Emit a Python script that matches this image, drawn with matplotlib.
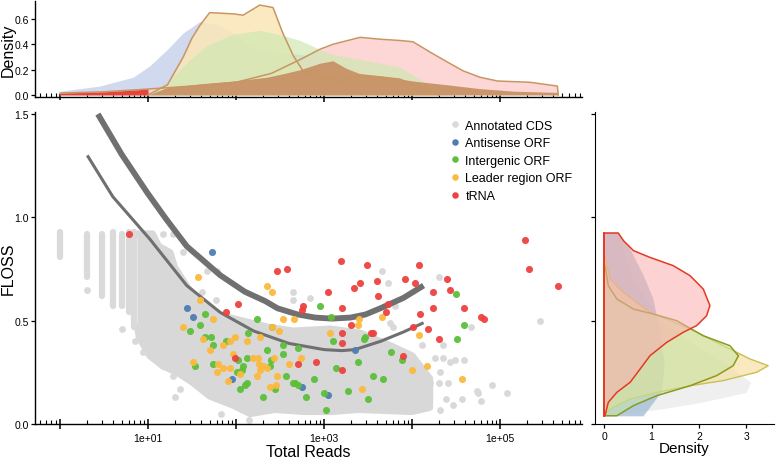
import numpy as np
import matplotlib
matplotlib.use("Agg")
import matplotlib.pyplot as plt
from matplotlib.ticker import FixedLocator, NullFormatter

plt.rcParams['font.family'] = ['Liberation Sans', 'DejaVu Sans']

# ---------------- data (x values are log10 of total reads) ----------------
groups = ["Annotated CDS", "Antisense ORF", "Intergenic ORF", "Leader region ORF", "tRNA"]
colors = ["#d9d9d9", "#4f7db3", "#5cbf3a", "#fbb93e", "#ec4240"]

# annotated CDS: dense cloud outline
cds_cloud_log = [0.88, 1.05, 1.12, 1.25, 1.30, 1.45, 1.56, 1.78, 1.97, 2.35, 2.65, 3.07, 3.41, 3.75,
                 4.00, 4.20, 4.20, 4.00, 3.39, 3.09, 2.78, 2.44, 2.16, 1.97, 1.70, 1.51, 1.33,
                 1.17, 1.02, 0.90, 0.88]
cds_cloud_floss = [0.92, 0.92, 0.86, 0.83, 0.76, 0.66, 0.60, 0.53, 0.51, 0.47, 0.45, 0.46, 0.44, 0.38,
                   0.33, 0.22, 0.08, 0.06, 0.07, 0.06, 0.06, 0.07, 0.05, 0.09, 0.135, 0.20, 0.25,
                   0.28, 0.33, 0.42, 0.47]
# annotated CDS: columns of points at low read counts
cds_col_reads = [1, 2, 3, 4, 5, 6, 7]
cds_col_low = [0.81, 0.71, 0.62, 0.57, 0.57, 0.54, 0.47]
cds_col_high = [0.93, 0.92, 0.92, 0.93, 0.92, 0.93, 0.93]
# annotated CDS: scattered points
cds_log = [1.17, 1.28, 1.40, 0.31, 0.70, 0.85, 0.94, 1.17, 1.28, 1.36, 1.67, 1.78, 2.65, 2.65, 1.61,
           1.77, 2.84, 3.66, 3.73, 4.31, 5.45, 4.67, 3.80, 3.75, 3.78, 4.11, 4.35, 4.26, 4.35, 4.43,
           4.49, 4.59, 4.32, 4.20, 4.30, 4.41, 4.57, 4.74, 4.91, 5.08, 4.78, 4.38, 4.47, 4.32, 1.31,
           1.83, 2.15, 4.75]
cds_floss = [0.92, 0.92, 0.83, 0.65, 0.46, 0.40, 0.35, 0.28, 0.23, 0.17, 0.74, 0.74, 0.64, 0.60, 0.64,
             0.60, 0.61, 0.74, 0.68, 0.71, 0.50, 0.47, 0.57, 0.49, 0.47, 0.38, 0.38, 0.32, 0.32, 0.30,
             0.31, 0.31, 0.25, 0.20, 0.20, 0.20, 0.12, 0.16, 0.19, 0.15, 0.11, 0.12, 0.09, 0.07, 0.13,
             0.05, 0.02, 0.15]

antisense_log = [1.73, 1.44, 1.51, 1.95, 2.75, 3.05, 3.35]
antisense_floss = [0.83, 0.56, 0.52, 0.22, 0.18, 0.14, 0.36]

intergenic_log = [1.59, 1.65, 2.24, 1.48, 1.65, 1.72, 1.88, 1.74, 2.14, 2.35, 2.53, 2.53, 2.70, 2.12,
                  2.02, 1.53, 1.74, 2.08, 2.07, 2.39, 2.01, 2.12, 2.10, 2.05, 2.31, 2.44, 2.57, 2.65,
                  2.95, 3.08, 2.41, 3.47, 4.50, 4.59, 4.51, 3.76, 3.88, 3.67, 3.10, 3.45, 2.40, 3.39,
                  3.14, 3.56, 2.67, 2.70, 2.89, 3.27, 3.00, 2.80, 3.50, 3.02]
intergenic_floss = [0.48, 0.53, 0.51, 0.45, 0.42, 0.42, 0.40, 0.38, 0.44, 0.36, 0.38, 0.34, 0.37, 0.32,
                    0.31, 0.28, 0.29, 0.28, 0.26, 0.28, 0.25, 0.20, 0.19, 0.17, 0.13, 0.17, 0.23, 0.20,
                    0.57, 0.52, 0.47, 0.42, 0.63, 0.48, 0.41, 0.35, 0.31, 0.22, 0.40, 0.41, 0.31, 0.30,
                    0.27, 0.23, 0.20, 0.19, 0.22, 0.16, 0.15, 0.13, 0.12, 0.07]

leader_log = [1.57, 2.35, 2.41, 1.59, 1.74, 1.40, 1.63, 1.93, 1.99, 1.85, 1.70, 2.12, 2.27, 2.53, 2.66,
              2.41, 2.49, 1.97, 2.19, 2.25, 1.51, 1.80, 1.78, 1.85, 1.93, 2.26, 2.31, 2.35, 2.24, 2.27,
              2.47, 2.45, 2.39, 1.91, 2.05, 3.40, 3.39, 3.66, 3.07, 4.08, 4.00, 4.17, 4.57, 2.43, 2.60,
              2.74, 3.43]
leader_floss = [0.71, 0.67, 0.64, 0.60, 0.51, 0.47, 0.41, 0.40, 0.42, 0.38, 0.36, 0.40, 0.42, 0.51, 0.51,
                0.47, 0.45, 0.34, 0.32, 0.32, 0.30, 0.29, 0.25, 0.27, 0.27, 0.29, 0.28, 0.27, 0.23, 0.26,
                0.23, 0.19, 0.18, 0.21, 0.24, 0.51, 0.48, 0.52, 0.44, 0.43, 0.26, 0.28, 0.22, 0.32, 0.29,
                0.32, 0.17]

trna_log = [0.78, 2.47, 2.58, 2.02, 1.89, 1.99, 2.70, 3.19, 3.49, 3.05, 3.34, 3.41, 3.60, 3.61, 2.76,
            2.75, 3.20, 3.30, 3.53, 3.56, 3.20, 3.20, 2.91, 3.20, 5.28, 5.33, 5.66, 4.08, 3.92, 4.03,
            4.40, 4.43, 4.24, 4.24, 4.59, 4.09, 4.78, 4.82, 4.18, 4.01, 3.73, 3.70, 4.31, 3.90]
trna_floss = [0.92, 0.74, 0.75, 0.58, 0.54, 0.32, 0.29, 0.79, 0.77, 0.64, 0.66, 0.68, 0.69, 0.62, 0.57,
              0.55, 0.56, 0.48, 0.44, 0.44, 0.44, 0.39, 0.30, 0.26, 0.89, 0.75, 0.67, 0.77, 0.70, 0.68,
              0.70, 0.65, 0.64, 0.56, 0.56, 0.53, 0.52, 0.51, 0.46, 0.47, 0.58, 0.54, 0.41, 0.33]

# threshold curves
thick_log = [0.43, 0.70, 0.99, 1.20, 1.44, 1.82, 2.10, 2.33, 2.47, 2.70, 2.90, 3.09, 3.30, 3.47, 3.64, 3.90, 4.13]
thick_floss = [1.5, 1.305, 1.12, 0.995, 0.86, 0.72, 0.64, 0.595, 0.56, 0.53, 0.515, 0.51, 0.515, 0.53, 0.56, 0.61, 0.67]
thin_log = [0.31, 0.60, 1.02, 1.44, 1.82, 2.20, 2.60, 3.00, 3.20, 3.35, 3.64, 3.90, 4.13]
thin_floss = [1.30, 1.10, 0.895, 0.67, 0.54, 0.45, 0.39, 0.36, 0.355, 0.36, 0.40, 0.445, 0.49]

# top marginal densities (x: log10 reads)
top_blue_log = [0.0, 0.45, 0.83, 1.02, 1.22, 1.40, 1.59, 1.78, 1.97, 2.16, 2.35, 2.73, 2.92, 3.25, 3.5, 3.75, 4.0, 4.5]
top_blue_dens = [0.03, 0.07, 0.14, 0.23, 0.36, 0.49, 0.58, 0.56, 0.49, 0.39, 0.34, 0.32, 0.30, 0.24, 0.17, 0.10, 0.05, 0.01]
top_trna_log = [0.0, 0.5, 0.9, 1.0, 1.5, 2.0, 2.4, 2.73, 2.95, 3.1, 3.41, 3.64, 3.86, 4.01, 4.2, 4.4, 4.58, 4.77, 4.97, 5.34, 5.65, 5.66]
top_trna_dens = [0.015, 0.025, 0.042, 0.047, 0.07, 0.10, 0.17, 0.28, 0.36, 0.40, 0.455, 0.44, 0.43, 0.42, 0.34, 0.26, 0.19, 0.14, 0.11, 0.10, 0.07, 0.0]
top_leader_log = [1.0, 1.22, 1.40, 1.50, 1.59, 1.70, 1.97, 2.08, 2.27, 2.42, 2.53, 2.65, 2.76, 2.95, 3.18, 3.41, 3.6, 3.86, 4.1, 4.3]
top_leader_dens = [0.0, 0.08, 0.30, 0.45, 0.55, 0.65, 0.64, 0.63, 0.71, 0.69, 0.49, 0.31, 0.19, 0.14, 0.11, 0.15, 0.145, 0.125, 0.06, 0.0]
top_inter_log = [1.0, 1.22, 1.45, 1.67, 1.97, 2.27, 2.53, 2.73, 2.95, 3.1, 3.5, 3.86, 4.1, 4.35]
top_inter_dens = [0.0, 0.10, 0.26, 0.39, 0.48, 0.51, 0.47, 0.43, 0.36, 0.32, 0.27, 0.22, 0.12, 0.0]
top_cds_log = [1.0, 1.22, 1.59, 1.97, 2.35, 2.55, 2.73, 2.95, 3.1, 3.25, 3.4, 3.64, 4.01, 4.4, 4.77, 5.15, 5.65, 5.66]
top_cds_dens = [0.0, 0.06, 0.087, 0.11, 0.14, 0.17, 0.20, 0.25, 0.27, 0.21, 0.17, 0.15, 0.11, 0.08, 0.05, 0.03, 0.02, 0.0]

# right marginal densities (y: FLOSS)
right_cds_floss = [0.92, 0.7, 0.5, 0.4, 0.3, 0.2, 0.15, 0.1, 0.07, 0.05]
right_cds_dens = [0.3, 0.6, 1.2, 1.8, 2.5, 3.1, 3.0, 2.0, 1.2, 0.5]
right_anti_floss = [0.927, 0.847, 0.72, 0.605, 0.444, 0.282, 0.153, 0.037]
right_anti_dens = [0.30, 0.55, 0.83, 1.04, 1.18, 1.28, 1.21, 0.83]
right_leader_floss = [0.83, 0.70, 0.637, 0.54, 0.46, 0.379, 0.315, 0.282, 0.25, 0.21, 0.185, 0.153, 0.121, 0.073, 0.04]
right_leader_dens = [0.0, 0.13, 0.41, 0.97, 1.81, 2.51, 3.07, 3.46, 3.21, 2.51, 1.81, 1.11, 0.55, 0.13, 0.0]
right_inter_floss = [0.766, 0.669, 0.605, 0.556, 0.532, 0.50, 0.427, 0.379, 0.33, 0.282, 0.234, 0.185, 0.137, 0.089, 0.04]
right_inter_dens = [0.02, 0.09, 0.27, 0.62, 1.04, 1.53, 2.09, 2.65, 2.83, 2.72, 2.37, 1.81, 1.11, 0.62, 0.27]
right_trna_floss = [0.924, 0.924, 0.887, 0.839, 0.806, 0.766, 0.718, 0.653, 0.573, 0.524, 0.476, 0.444, 0.395,
                    0.331, 0.266, 0.202, 0.153, 0.105, 0.04]
right_trna_dens = [0.0, 0.30, 0.41, 0.62, 0.97, 1.46, 1.81, 2.09, 2.23, 2.16, 1.95, 1.67, 1.32, 0.97, 0.76,
                   0.55, 0.27, 0.09, 0.02]

# ---------------- figure ----------------
fig = plt.figure(figsize=(7.78, 4.6), dpi=100)
ax = fig.add_axes([0.045, 0.0761, 0.7031, 0.6783])
ax_top = fig.add_axes([0.045, 0.787, 0.7031, 0.2087])
ax_right = fig.add_axes([0.7648, 0.0761, 0.2301, 0.6783])

L = lambda v: 10 ** np.asarray(v, dtype=float)

# main scatter
ax.fill(L(cds_cloud_log), cds_cloud_floss, color="#d8d8d8", lw=0, zorder=1)
ax.plot(L(cds_cloud_log), cds_cloud_floss, color="#d8d8d8", lw=5, solid_joinstyle="round", zorder=1)
for r, lo, hi in zip(cds_col_reads, cds_col_low, cds_col_high):
    ax.plot([r, r], [lo, hi], color="#dadada", lw=4.5, solid_capstyle="round", zorder=1)
ax.scatter(L(cds_log), cds_floss, s=24, color=colors[0], lw=0, zorder=2)

ax.plot(L(thick_log), thick_floss, color="#707070", lw=4.2, solid_capstyle="butt", zorder=3)
ax.plot(L(thin_log), thin_floss, color="#707070", lw=2.2, solid_capstyle="butt", zorder=3)

pts = [(antisense_log, antisense_floss), (intergenic_log, intergenic_floss),
       (leader_log, leader_floss), (trna_log, trna_floss)]
for (lx, fy), c in zip(pts, colors[1:]):
    ax.scatter(L(lx), fy, s=26, color=c, lw=0, alpha=0.95, zorder=4)

# legend
for name, c in zip(groups, colors):
    ax.scatter([], [], s=22, color=c, lw=0, label=name)
ax.legend(loc="upper left", bbox_to_anchor=(0.578, 0.738), bbox_transform=fig.transFigure,
          frameon=False, fontsize=9, handlelength=0.8, handletextpad=0.45, labelspacing=0.45,
          borderpad=0, borderaxespad=0, scatteryoffsets=[0.5])

# top density
ax_top.fill_between(L(top_blue_log), 0, top_blue_dens, color="#d0d9ee", lw=0, zorder=1)
ax_top.fill_between(L(top_trna_log), 0, top_trna_dens, color="#fdd2d2", lw=0, alpha=0.9, zorder=2)
ax_top.plot(L(top_trna_log), top_trna_dens, color="#c99562", lw=1.1, zorder=6)
ax_top.fill_between(L(top_leader_log), 0, top_leader_dens, color="#fbe6b8", lw=0, alpha=0.85, zorder=3)
ax_top.plot(L(top_leader_log), top_leader_dens, color="#c99562", lw=1.1, zorder=6)
ax_top.fill_between(L(top_inter_log), 0, top_inter_dens, color="#cfe8b2", lw=0, alpha=0.7, zorder=4)
ax_top.fill_between(L(top_cds_log), 0, top_cds_dens, color="#c8966a", lw=0, zorder=5)
low = np.asarray(top_trna_log) <= 1.0
ax_top.fill_between(L(np.asarray(top_trna_log)[low]), 0, np.asarray(top_trna_dens)[low],
                    color="#e4443a", lw=0, zorder=5)

# right density
def closed(dens, floss):
    return np.r_[0, dens, 0], np.r_[floss[0], floss, floss[-1]]

ax_right.fill(*closed(right_cds_dens, right_cds_floss), color="#efefef", lw=0, zorder=1)
ax_right.fill(*closed(right_anti_dens, right_anti_floss), color="#a9c2d8", alpha=0.85, lw=0, zorder=2)
ax_right.fill(*closed(right_leader_dens, right_leader_floss),
              facecolor=(0.97, 0.86, 0.58, 0.6), edgecolor="#c8bf55", lw=1.0, zorder=3)
ax_right.fill(*closed(right_inter_dens, right_inter_floss),
              facecolor=(0.78, 0.90, 0.66, 0.55), edgecolor="#8c9a1e", lw=1.1, zorder=4)
ax_right.fill(*closed(right_trna_dens, right_trna_floss),
              facecolor=(0.98, 0.68, 0.68, 0.55), edgecolor="#e43a25", lw=1.1, zorder=5)
ax_right.plot([0, 0], [right_trna_floss[-1], right_trna_floss[0]], color="#e43a25", lw=1.3, zorder=6)

# ---------------- axes styling ----------------
xmin, xmax = 10 ** -0.284, 10 ** 5.93
decades = [10.0 ** k for k in range(0, 6)]
minors = [m * 10.0 ** k for k in range(-1, 6) for m in range(2, 10) if xmin <= m * 10.0 ** k <= xmax]

for a in (ax, ax_top):
    a.set_xscale("log")
    a.set_xlim(xmin, xmax)
    a.xaxis.set_major_locator(FixedLocator(decades))
    a.xaxis.set_minor_locator(FixedLocator(minors))
    a.xaxis.set_minor_formatter(NullFormatter())
    a.tick_params(axis="x", which="major", direction="inout", length=7, width=1.1, color="black")
    a.tick_params(axis="x", which="minor", direction="in", length=3, width=0.8, color="black")
    a.tick_params(axis="y", direction="out", length=3, width=0.9, labelsize=7.5, pad=1.5)
    for s in ("top", "right"):
        a.spines[s].set_visible(False)
    for s in ("left", "bottom"):
        a.spines[s].set_linewidth(1.0)
    a.patch.set_alpha(0)

ax.set_xticklabels(["" if k % 2 == 0 else "1e+%02d" % k for k in range(0, 6)], fontsize=7.5)
ax_top.set_xticklabels([])
for a in (ax, ax_top):
    for k, t in enumerate(a.xaxis.get_major_ticks()):
        if k % 2 == 0:
            t.tick1line.set_markersize(4.5)
ax.tick_params(axis="x", which="major", pad=3)

ax.set_ylim(0, 1.51)
ax.set_yticks([0.0, 0.5, 1.0, 1.5])
ax.set_yticklabels(["0.0", "0.5", "1.0", "1.5"])
ax.set_xlabel("Total Reads", fontsize=11.5, labelpad=1)
ax.set_ylabel("FLOSS", fontsize=11.5)
ax.yaxis.set_label_coords(-0.036, 0.5)

ax_top.set_ylim(-0.016, 0.742)
ax_top.set_yticks([0.0, 0.2, 0.4, 0.6])
ax_top.set_yticklabels(["0.0", "0.2", "0.4", "0.6"])
ax_top.set_ylabel("Density", fontsize=11.5)
ax_top.yaxis.set_label_coords(-0.036, 0.5)

ax_right.set_ylim(0, 1.51)
ax_right.set_xlim(-0.19, 3.58)
ax_right.set_yticks([0.0, 0.5, 1.0, 1.5])
ax_right.set_yticklabels([])
ax_right.set_xticks([0, 1, 2, 3])
ax_right.tick_params(axis="both", direction="out", length=3, width=0.9, labelsize=7.5, pad=2)
for s in ("top", "right"):
    ax_right.spines[s].set_visible(False)
ax_right.set_xlabel("Density", fontsize=11, labelpad=0)
ax_right.patch.set_alpha(0)

fig.savefig("out.png", dpi=100)
